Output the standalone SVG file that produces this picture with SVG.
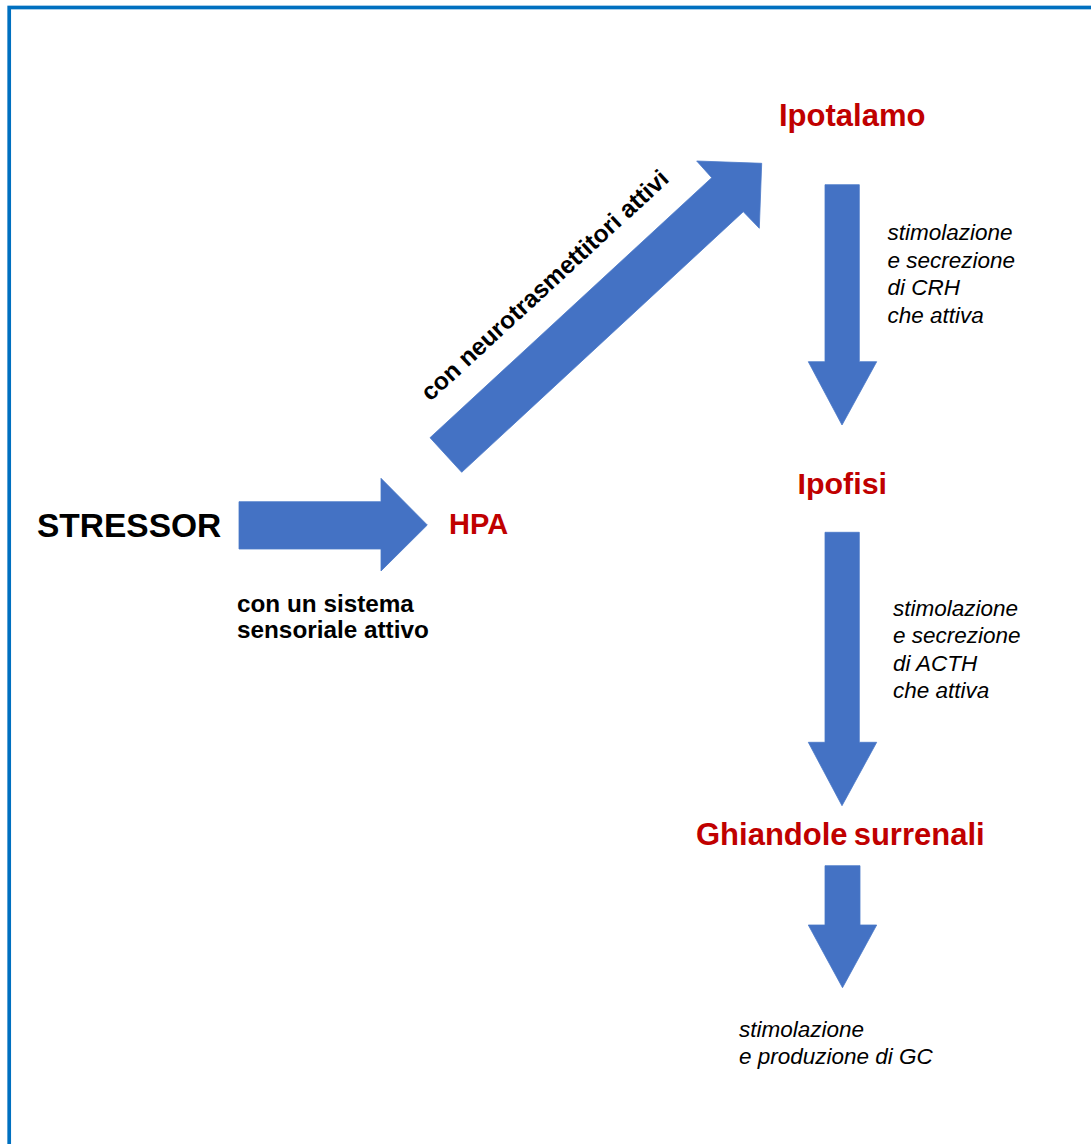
<svg xmlns="http://www.w3.org/2000/svg" width="1091" height="1144" viewBox="0 0 1091 1144">
<style>
.arrow{fill:#4472C4;stroke:#4a78c8;stroke-width:0.8}
.red{font-family:"Liberation Sans",Arial,sans-serif;font-weight:bold;fill:#C00000}
.blk{font-family:"Liberation Sans",Arial,sans-serif;font-weight:bold;fill:#000}
.it{font-family:"Liberation Sans",Arial,sans-serif;font-style:italic;font-size:22.5px;fill:#000}
</style>
<rect x="0" y="0" width="1091" height="1144" fill="#fff"/>
<rect x="9.2" y="7.5" width="1200" height="1200" fill="none" stroke="#0070C0" stroke-width="3.7"/>
<g id="connectors">
<polygon class="arrow" points="239,501.7 381,501.7 381,478.3 427.3,525 381,571 381,549 239,549"/>
<polygon class="arrow" points="430,437.7 711.7,177.7 696.7,161 761.7,163.3 759.3,228.3 743.3,211.7 461.7,472.3"/>
<polygon class="arrow" points="825,184.7 859.3,184.7 859.3,361.7 876.7,361.7 842,425 808.3,361.7 825,361.7"/>
<polygon class="arrow" points="825,532.3 859.3,532.3 859.3,742.3 876.7,742.3 842,805.7 808.3,742.3 825,742.3"/>
<polygon class="arrow" points="825,865.7 860,865.7 860,925 876.7,925 842.5,987.7 808.3,925 825,925"/>
<text class="blk" font-size="24.6" transform="translate(430.3,402.1) rotate(-42.7)">con neurotrasmettitori attivi</text>
<text class="blk" font-size="24.3"><tspan x="237" y="611.7">con un sistema</tspan><tspan x="237" y="637.7">sensoriale attivo</tspan></text>
<text class="it"><tspan x="887.5" y="240">stimolazione</tspan><tspan x="887.5" y="267.7">e secrezione</tspan><tspan x="887.5" y="295.4">di CRH</tspan><tspan x="887.5" y="323">che attiva</tspan></text>
<text class="it"><tspan x="893" y="615.7">stimolazione</tspan><tspan x="893" y="643.2">e secrezione</tspan><tspan x="893" y="670.7">di ACTH</tspan><tspan x="893" y="698">che attiva</tspan></text>
<text class="it"><tspan x="739" y="1037.3">stimolazione</tspan><tspan x="739" y="1064.3">e produzione di GC</tspan></text>
</g>
<g id="stressor"><text class="blk" x="37" y="536.7" font-size="33.5">STRESSOR</text></g>
<g id="hpa"><text class="red" x="449" y="534" font-size="29">HPA</text></g>
<g id="ipotalamo"><text class="red" x="779" y="125.7" font-size="31">Ipotalamo</text></g>
<g id="ipofisi"><text class="red" x="797.5" y="494.3" font-size="30.4">Ipofisi</text></g>
<g id="ghiandole"><text class="red" x="696" y="845" font-size="31" word-spacing="-2.5">Ghiandole surrenali</text></g>
</svg>
